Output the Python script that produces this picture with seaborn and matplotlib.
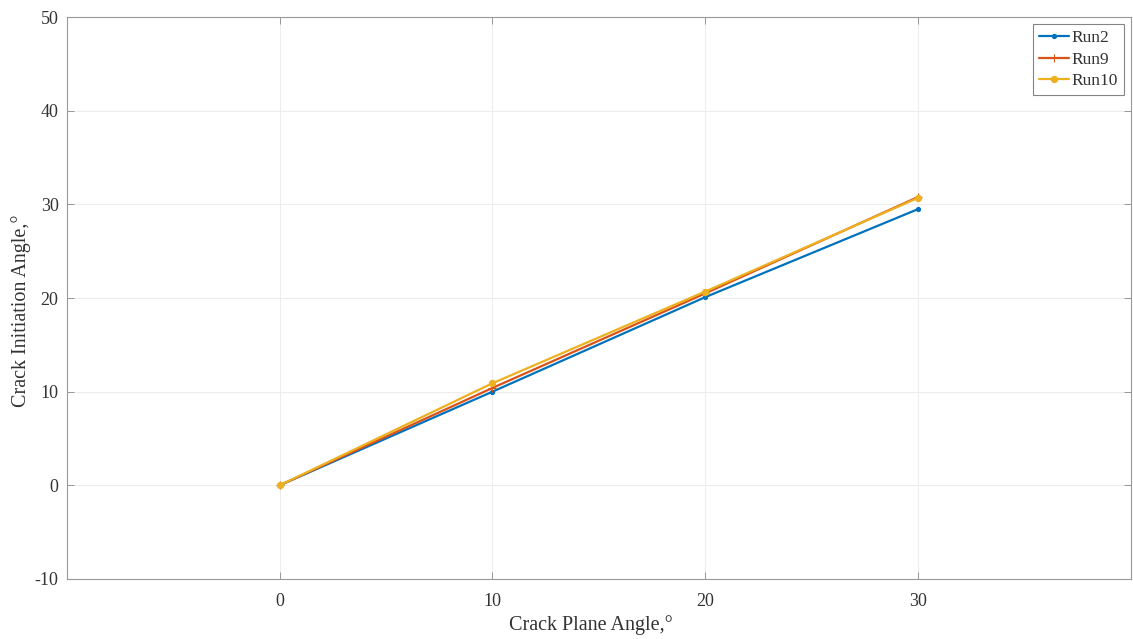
import pandas as pd
import seaborn as sns
import matplotlib.pyplot as plt

# Datos
crack_plane = [0, 10, 20, 30]
run2 = [0.0, 10.0, 20.1, 29.5]
run9 = [0.0, 10.4, 20.5, 30.8]
run10 = [0.0, 10.9, 20.7, 30.7]
series_names = ["Run2", "Run9", "Run10"]
colors = ["#0072BD", "#D95319", "#EDB120"]
markers = [".", "+", "o"]

df = pd.DataFrame({
    "x": crack_plane * 3,
    "y": run2 + run9 + run10,
    "run": [n for n in series_names for _ in crack_plane],
})

sns.set_theme(style="whitegrid")
plt.rcParams["font.family"] = ["Liberation Serif", "DejaVu Serif"]
plt.rcParams["axes.unicode_minus"] = False

fig = plt.figure(figsize=(11.33, 6.39), dpi=100)
ax = fig.add_axes([0.059, 0.094, 0.939, 0.879])

for name, col, mk in zip(series_names, colors, markers):
    sub = df[df["run"] == name]
    sns.lineplot(data=sub, x="x", y="y", ax=ax, color=col, linewidth=1.6,
                 marker=mk, markersize=6 if mk != "o" else 4.5,
                 markeredgecolor=col, markerfacecolor=col, label=name)

ax.set_xlim(-10, 40)
ax.set_ylim(-10, 50)
ax.set_xticks([0, 10, 20, 30])
ax.set_yticks(range(-10, 51, 10))
ax.set_xlabel("Crack Plane Angle,°", fontsize=14.5, color="#333333")
ax.set_ylabel("Crack Initiation Angle,°", fontsize=14.5, color="#333333")
ax.xaxis.set_label_coords(0.4925, -0.064)
ax.yaxis.set_label_coords(-0.034, 0.478)
ax.tick_params(axis="x", pad=10)
ax.tick_params(axis="y", pad=6)
ax.tick_params(axis="both", labelsize=13, labelcolor="#333333", direction="in",
               length=5, width=0.6, color="#888888", top=True, right=True,
               bottom=True, left=True)
ax.grid(True, color="#ededed", linewidth=0.8)
for sp in ax.spines.values():
    sp.set_visible(True)
    sp.set_color("#999999")
    sp.set_linewidth(0.8)

leg = ax.legend(loc="upper right", fontsize=12.5, frameon=True, fancybox=False,
                edgecolor="#666666", handlelength=1.7, borderpad=0.35,
                labelspacing=0.3, handletextpad=0.15, borderaxespad=0.4)
leg.get_frame().set_linewidth(0.8)
for t in leg.get_texts():
    t.set_color("#333333")

fig.savefig("out.png", dpi=100)
